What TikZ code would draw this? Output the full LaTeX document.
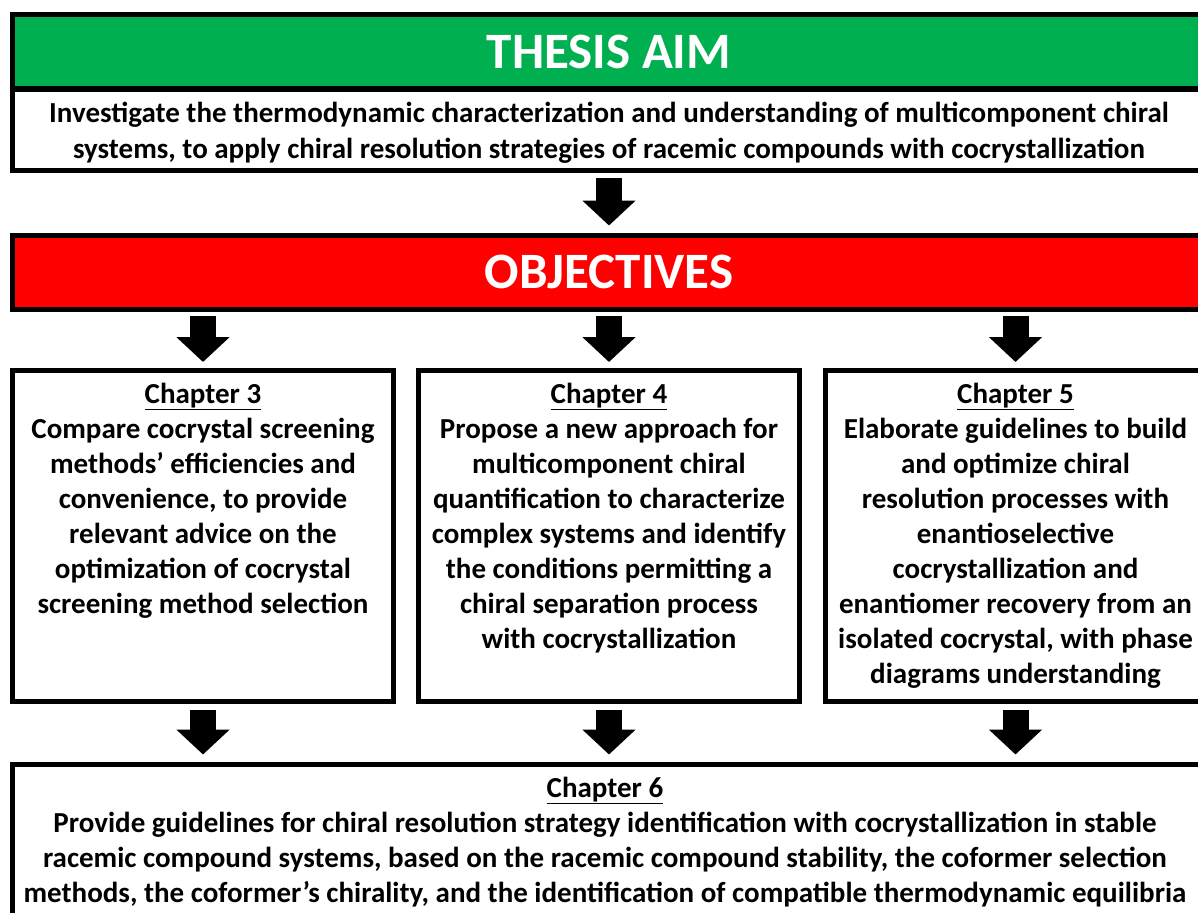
\documentclass[tikz,border=0pt]{standalone}
\usepackage{fontspec}
\setmainfont{Carlito}
\usetikzlibrary{arrows.meta}
\definecolor{aimgreen}{RGB}{0,176,80}
\definecolor{objred}{RGB}{255,0,0}
\tikzset{
  banner/.style={draw, line width=5pt, minimum width=1193pt, minimum height=74pt,
    text=white, font=\fontsize{51}{60}\selectfont\bfseries},
  aimbox/.style={draw, line width=5pt, fill=white, minimum width=1193pt, minimum height=81pt,
    align=center, text depth=0pt, font=\fontsize{29}{36}\selectfont\bfseries},
  chapbox/.style={draw, line width=5pt, minimum width=381pt, minimum height=331pt},
  chaptext/.style={anchor=north, inner sep=0pt, align=center,
    font=\fontsize{29}{35}\selectfont\bfseries},
  blockarrow/.style={line width=26pt, -{Triangle[width=52pt,length=25pt]}}
}
\begin{document}
\begin{tikzpicture}[x=1pt,y=-1pt]
  \useasboundingbox (0,0) rectangle (1198,912);
  \draw
    (609,52) node[banner, fill=aimgreen] (aim){THESIS AIM}
    (609,130) node[aimbox] (aimtxt){Investigate the thermodynamic characterization and understanding of multicomponent chiral\\
      systems, to apply chiral resolution strategies of racemic compounds with cocrystallization}
    (609,272) node[banner, fill=objred] (obj){OBJECTIVES}
    (203,536) node[chapbox] (ch3){}
    (609,536) node[chapbox] (ch4){}
    (1015.5,536) node[chapbox] (ch5){}
    (609,862) node[draw, line width=5pt, minimum width=1193pt, minimum height=196pt] (ch6){};
  \node[chaptext] (ch3txt) at (203,383) {\underline{Chapter 3}\\
    Compare cocrystal screening\\ methods’ efficiencies and\\ convenience, to provide\\
    relevant advice on the\\ optimization of cocrystal\\ screening method selection};
  \node[chaptext] (ch4txt) at (609,383) {\underline{Chapter 4}\\
    Propose a new approach for\\ multicomponent chiral\\ quantification to characterize\\
    complex systems and identify\\ the conditions permitting a\\ chiral separation process\\
    with cocrystallization};
  \node[chaptext] (ch5txt) at (1015.5,383) {\underline{Chapter 5}\\
    Elaborate guidelines to build\\ and optimize chiral\\ resolution processes with\\
    enantioselective\\ cocrystallization and\\ enantiomer recovery from an\\
    isolated cocrystal, with phase\\ diagrams understanding};
  \node[chaptext] (ch6txt) at (605,777) {\underline{Chapter 6}\\
    Provide guidelines for chiral resolution strategy identification with cocrystallization in stable\\
    racemic compound systems, based on the racemic compound stability, the coformer selection\\
    methods, the coformer’s chirality, and the identification of compatible thermodynamic equilibria};
  \begin{scope}[blockarrow]
    \draw[shorten <=5pt, shorten >=7pt] (aimtxt.south) to (obj.north);
    \draw[shorten <=4pt, shorten >=6pt] (obj.south -| ch3.north) to (ch3.north);
    \draw[shorten <=4pt, shorten >=6pt] (obj.south) to (ch4.north);
    \draw[shorten <=4pt, shorten >=6pt] (obj.south -| ch5.north) to (ch5.north);
    \draw[shorten <=6pt, shorten >=7pt] (ch3.south) to (ch6.north -| ch3.south);
    \draw[shorten <=6pt, shorten >=7pt] (ch4.south) to (ch6.north -| ch4.south);
    \draw[shorten <=6pt, shorten >=7pt] (ch5.south) to (ch6.north -| ch5.south);
  \end{scope}
\end{tikzpicture}
\end{document}
